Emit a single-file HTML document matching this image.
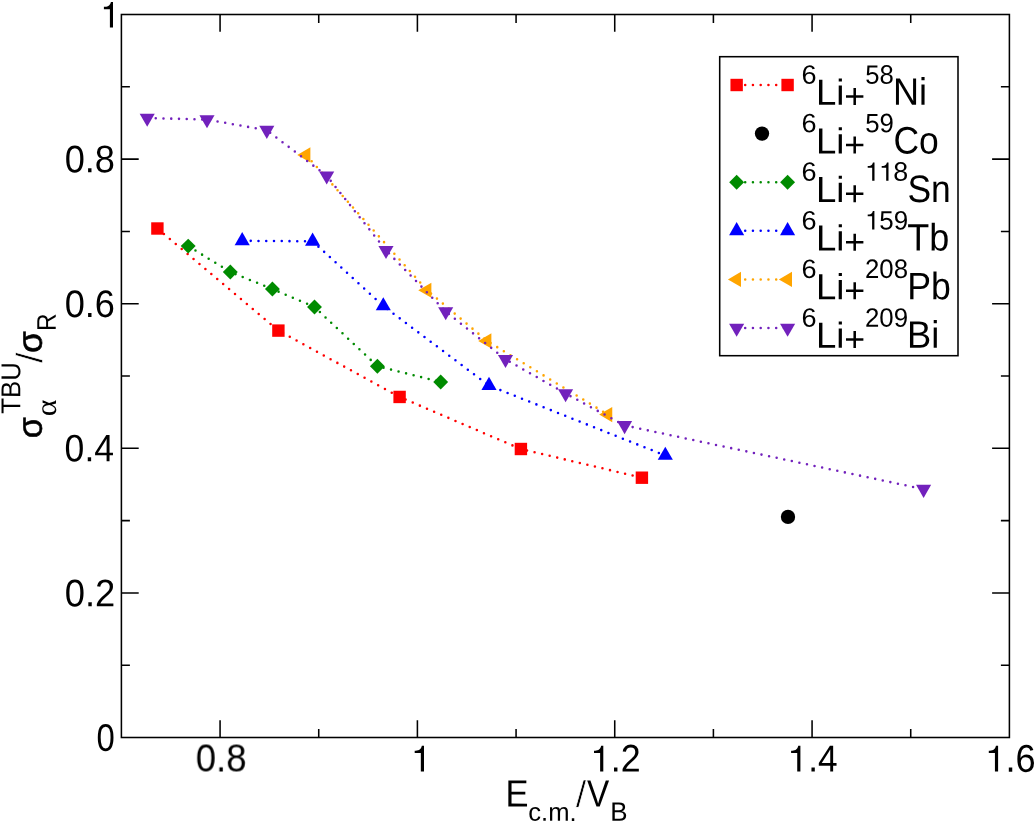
<!DOCTYPE html>
<html><head><meta charset="utf-8"><title>chart</title>
<style>
html,body{margin:0;padding:0;background:#fff;}
body{width:1035px;height:824px;overflow:hidden;}
svg{display:block;}
text{font-family:"Liberation Sans",sans-serif;font-size:100px;font-kerning:none;fill:#000;}
text.sf{font-family:"Liberation Serif",serif;}
</style></head><body>
<svg width="1035" height="824" viewBox="0 0 1035 824">
<rect x="0" y="0" width="1035" height="824" fill="#ffffff"/>
<polyline points="157.40,228.50 278.40,330.60 399.60,396.95 520.90,449.00 641.90,477.70" fill="none" stroke="#ff0000" stroke-width="2.55" stroke-linecap="round" stroke-dashoffset="-0.8" stroke-dasharray="0 7.75"/>
<rect x="151.20" y="222.30" width="12.40" height="12.40" fill="#ff0000"/>
<rect x="272.20" y="324.40" width="12.40" height="12.40" fill="#ff0000"/>
<rect x="393.40" y="390.75" width="12.40" height="12.40" fill="#ff0000"/>
<rect x="514.70" y="442.80" width="12.40" height="12.40" fill="#ff0000"/>
<rect x="635.70" y="471.50" width="12.40" height="12.40" fill="#ff0000"/>
<polyline points="188.20,246.10 230.30,272.00 272.40,289.00 314.50,307.00 377.40,366.20 440.70,382.00" fill="none" stroke="#008b00" stroke-width="2.55" stroke-linecap="round" stroke-dashoffset="-0.8" stroke-dasharray="0 7.75"/>
<polygon points="180.75,246.10 188.20,238.65 195.65,246.10 188.20,253.55" fill="#008b00"/>
<polygon points="222.85,272.00 230.30,264.55 237.75,272.00 230.30,279.45" fill="#008b00"/>
<polygon points="264.95,289.00 272.40,281.55 279.85,289.00 272.40,296.45" fill="#008b00"/>
<polygon points="307.05,307.00 314.50,299.55 321.95,307.00 314.50,314.45" fill="#008b00"/>
<polygon points="369.95,366.20 377.40,358.75 384.85,366.20 377.40,373.65" fill="#008b00"/>
<polygon points="433.25,382.00 440.70,374.55 448.15,382.00 440.70,389.45" fill="#008b00"/>
<polyline points="242.20,240.80 312.60,241.30 383.30,306.00 489.00,385.60 665.30,455.50" fill="none" stroke="#0000ff" stroke-width="2.55" stroke-linecap="round" stroke-dashoffset="-0.8" stroke-dasharray="0 7.75"/>
<polygon points="234.65,245.17 249.75,245.17 242.20,232.07" fill="#0000ff"/>
<polygon points="305.05,245.67 320.15,245.67 312.60,232.57" fill="#0000ff"/>
<polygon points="375.75,310.37 390.85,310.37 383.30,297.27" fill="#0000ff"/>
<polygon points="481.45,389.97 496.55,389.97 489.00,376.87" fill="#0000ff"/>
<polygon points="657.75,459.87 672.85,459.87 665.30,446.77" fill="#0000ff"/>
<polyline points="306.00,154.90 427.00,290.20 487.00,340.90 607.90,414.60" fill="none" stroke="#ffa500" stroke-width="2.55" stroke-linecap="round" stroke-dashoffset="-0.8" stroke-dasharray="0 7.75"/>
<polygon points="310.37,147.35 310.37,162.45 297.27,154.90" fill="#ffa500"/>
<polygon points="431.37,282.65 431.37,297.75 418.27,290.20" fill="#ffa500"/>
<polygon points="491.37,333.35 491.37,348.45 478.27,340.90" fill="#ffa500"/>
<polygon points="612.27,407.05 612.27,422.15 599.17,414.60" fill="#ffa500"/>
<polyline points="147.20,118.00 207.00,119.60 266.80,130.20 326.70,175.80 386.00,250.30 445.70,311.50 505.50,359.30 565.60,393.50 624.60,425.40 923.60,489.20" fill="none" stroke="#7221bc" stroke-width="2.55" stroke-linecap="round" stroke-dashoffset="-0.8" stroke-dasharray="0 7.75"/>
<polygon points="139.65,113.63 154.75,113.63 147.20,126.73" fill="#7221bc"/>
<polygon points="199.45,115.23 214.55,115.23 207.00,128.33" fill="#7221bc"/>
<polygon points="259.25,125.83 274.35,125.83 266.80,138.93" fill="#7221bc"/>
<polygon points="319.15,171.43 334.25,171.43 326.70,184.53" fill="#7221bc"/>
<polygon points="378.45,245.93 393.55,245.93 386.00,259.03" fill="#7221bc"/>
<polygon points="438.15,307.13 453.25,307.13 445.70,320.23" fill="#7221bc"/>
<polygon points="497.95,354.93 513.05,354.93 505.50,368.03" fill="#7221bc"/>
<polygon points="558.05,389.13 573.15,389.13 565.60,402.23" fill="#7221bc"/>
<polygon points="617.05,421.03 632.15,421.03 624.60,434.13" fill="#7221bc"/>
<polygon points="916.05,484.83 931.15,484.83 923.60,497.93" fill="#7221bc"/>
<circle cx="788.00" cy="516.90" r="7.15" fill="#000"/>
<rect x="121.4" y="14.5" width="888.00" height="723.00" fill="none" stroke="#000" stroke-width="1.55"/>
<path d="M220.07,737.5v-17.3 M220.07,14.5v17.3 M318.73,737.5v-8.5 M318.73,14.5v8.5 M417.40,737.5v-17.3 M417.40,14.5v17.3 M516.07,737.5v-8.5 M516.07,14.5v8.5 M614.73,737.5v-17.3 M614.73,14.5v17.3 M713.40,737.5v-8.5 M713.40,14.5v8.5 M812.07,737.5v-17.3 M812.07,14.5v17.3 M910.73,737.5v-8.5 M910.73,14.5v8.5 M121.4,665.20h8.5 M1009.4,665.20h-8.5 M121.4,592.90h17.3 M1009.4,592.90h-17.3 M121.4,520.60h8.5 M1009.4,520.60h-8.5 M121.4,448.30h17.3 M1009.4,448.30h-17.3 M121.4,376.00h8.5 M1009.4,376.00h-8.5 M121.4,303.70h17.3 M1009.4,303.70h-17.3 M121.4,231.40h8.5 M1009.4,231.40h-8.5 M121.4,159.10h17.3 M1009.4,159.10h-17.3 M121.4,86.80h8.5 M1009.4,86.80h-8.5" stroke="#000" stroke-width="1.55" fill="none"/>
<rect x="719.7" y="56.7" width="238.30" height="299.00" fill="#fff" stroke="#000" stroke-width="1.55"/>
<path d="M736.65,85.00H787.6" stroke="#ff0000" stroke-width="2.55" stroke-linecap="round" stroke-dashoffset="-0.8" stroke-dasharray="0 7.75" fill="none"/>
<rect x="730.45" y="78.80" width="12.40" height="12.40" fill="#ff0000"/>
<rect x="781.40" y="78.80" width="12.40" height="12.40" fill="#ff0000"/>
<circle cx="762.00" cy="133.60" r="7.15" fill="#000"/>
<path d="M736.65,182.20H787.6" stroke="#008b00" stroke-width="2.55" stroke-linecap="round" stroke-dashoffset="-0.8" stroke-dasharray="0 7.75" fill="none"/>
<polygon points="729.20,182.20 736.65,174.75 744.10,182.20 736.65,189.65" fill="#008b00"/>
<polygon points="780.15,182.20 787.60,174.75 795.05,182.20 787.60,189.65" fill="#008b00"/>
<path d="M736.65,230.80H787.6" stroke="#0000ff" stroke-width="2.55" stroke-linecap="round" stroke-dashoffset="-0.8" stroke-dasharray="0 7.75" fill="none"/>
<polygon points="729.10,235.17 744.20,235.17 736.65,222.07" fill="#0000ff"/>
<polygon points="780.05,235.17 795.15,235.17 787.60,222.07" fill="#0000ff"/>
<path d="M736.65,279.40H787.6" stroke="#ffa500" stroke-width="2.55" stroke-linecap="round" stroke-dashoffset="-0.8" stroke-dasharray="0 7.75" fill="none"/>
<polygon points="741.02,271.85 741.02,286.95 727.92,279.40" fill="#ffa500"/>
<polygon points="791.97,271.85 791.97,286.95 778.87,279.40" fill="#ffa500"/>
<path d="M736.65,328.00H787.6" stroke="#7221bc" stroke-width="2.55" stroke-linecap="round" stroke-dashoffset="-0.8" stroke-dasharray="0 7.75" fill="none"/>
<polygon points="729.10,323.63 744.20,323.63 736.65,336.73" fill="#7221bc"/>
<polygon points="780.05,323.63 795.15,323.63 787.60,336.73" fill="#7221bc"/>
<g style="filter:grayscale(1)">
<text transform="matrix(0.36479 0.0003 -0.0003 0.38841 195.775 771.821)" fill="#000">0.8</text>
<path d="M424.00,771.60L420.83,771.60L420.83,753.01L414.70,753.01L414.70,750.69C417.91,750.69 420.83,750.20 421.87,745.75L424.00,745.75Z" fill="#000"/>
<path d="M603.30,771.60L600.13,771.60L600.13,753.01L594.00,753.01L594.00,750.69C597.21,750.69 600.13,750.20 601.17,745.75L603.30,745.75Z" fill="#000"/>
<text transform="matrix(0.35818 0.0003 -0.0003 0.38525 610.729 771.600)" fill="#000">.2</text>
<path d="M800.40,771.60L797.23,771.60L797.23,753.01L791.10,753.01L791.10,750.69C794.31,750.69 797.23,750.20 798.27,745.75L800.40,745.75Z" fill="#000"/>
<text transform="matrix(0.35185 0.0003 -0.0003 0.37573 808.187 771.600)" fill="#000">.4</text>
<path d="M998.10,771.60L994.93,771.60L994.93,753.01L988.80,753.01L988.80,750.69C992.01,750.69 994.93,750.20 995.97,745.75L998.10,745.75Z" fill="#000"/>
<text transform="matrix(0.36209 0.0003 -0.0003 0.38841 1005.394 771.821)" fill="#000">.6</text>
<text transform="matrix(0.36363 0.0003 -0.0003 0.38418 64.680 606.125)" fill="#000">0.2</text>
<text transform="matrix(0.35558 0.0003 -0.0003 0.38135 64.611 461.328)" fill="#000">0.4</text>
<text transform="matrix(0.36186 0.0003 -0.0003 0.38418 64.686 316.925)" fill="#000">0.6</text>
<text transform="matrix(0.36173 0.0003 -0.0003 0.38418 64.687 172.325)" fill="#000">0.8</text>
<text transform="matrix(0.32843 0.0003 -0.0003 0.38418 96.417 750.725)" fill="#000">0</text>
<path d="M113.00,27.40L109.90,27.40L109.90,9.14L103.90,9.14L103.90,6.85C107.04,6.85 109.90,6.37 110.92,2.00L113.00,2.00Z" fill="#000"/>
<text transform="matrix(0.27090 0.0003 -0.0003 0.26695 801.624 83.639)" fill="#000">6</text>
<text transform="matrix(0.36571 0.0003 -0.0003 0.36295 816.000 104.800)" fill="#000">Li</text>
<text transform="matrix(0.35814 0.0003 -0.0003 0.34747 844.251 107.954)" fill="#000">+</text>
<text transform="matrix(0.25661 0.0003 -0.0003 0.26695 865.273 83.639)" fill="#000">58</text>
<text transform="matrix(0.36041 0.0003 -0.0003 0.38227 893.043 104.800)" fill="#000">Ni</text>
<text transform="matrix(0.27090 0.0003 -0.0003 0.26695 801.624 132.239)" fill="#000">6</text>
<text transform="matrix(0.36571 0.0003 -0.0003 0.36295 816.000 153.400)" fill="#000">Li</text>
<text transform="matrix(0.35814 0.0003 -0.0003 0.34747 844.251 156.554)" fill="#000">+</text>
<text transform="matrix(0.25759 0.0003 -0.0003 0.26695 865.269 132.239)" fill="#000">59</text>
<text transform="matrix(0.35427 0.0003 -0.0003 0.38227 893.501 153.400)" fill="#000">Co</text>
<text transform="matrix(0.27090 0.0003 -0.0003 0.26695 801.624 180.839)" fill="#000">6</text>
<text transform="matrix(0.36571 0.0003 -0.0003 0.36295 816.000 202.000)" fill="#000">Li</text>
<text transform="matrix(0.35814 0.0003 -0.0003 0.34747 844.251 205.154)" fill="#000">+</text>
<path d="M874.50,180.80L872.18,180.80L872.18,167.64L867.70,167.64L867.70,166.00C870.05,166.00 872.18,165.65 872.94,162.50L874.50,162.50Z" fill="#000"/>
<path d="M888.50,180.80L886.18,180.80L886.18,167.64L881.70,167.64L881.70,166.00C884.05,166.00 886.18,165.65 886.94,162.50L888.50,162.50Z" fill="#000"/>
<text transform="matrix(0.26852 0.0003 -0.0003 0.26695 893.133 180.839)" fill="#000">8</text>
<text transform="matrix(0.35406 0.0003 -0.0003 0.38227 907.392 202.000)" fill="#000">Sn</text>
<text transform="matrix(0.27090 0.0003 -0.0003 0.26695 801.624 229.439)" fill="#000">6</text>
<text transform="matrix(0.36571 0.0003 -0.0003 0.36295 816.000 250.600)" fill="#000">Li</text>
<text transform="matrix(0.35814 0.0003 -0.0003 0.34747 844.251 253.754)" fill="#000">+</text>
<path d="M874.40,229.40L872.12,229.40L872.12,216.24L867.70,216.24L867.70,214.60C870.01,214.60 872.12,214.25 872.87,211.10L874.40,211.10Z" fill="#000"/>
<text transform="matrix(0.25954 0.0003 -0.0003 0.26695 879.261 229.439)" fill="#000">59</text>
<text transform="matrix(0.36008 0.0003 -0.0003 0.38227 907.191 250.600)" fill="#000">Tb</text>
<text transform="matrix(0.27090 0.0003 -0.0003 0.26695 801.624 278.039)" fill="#000">6</text>
<text transform="matrix(0.36571 0.0003 -0.0003 0.36295 816.000 299.200)" fill="#000">Li</text>
<text transform="matrix(0.35814 0.0003 -0.0003 0.34747 844.251 302.354)" fill="#000">+</text>
<text transform="matrix(0.25783 0.0003 -0.0003 0.26695 865.003 278.039)" fill="#000">208</text>
<text transform="matrix(0.35619 0.0003 -0.0003 0.38227 907.328 299.200)" fill="#000">Pb</text>
<text transform="matrix(0.27090 0.0003 -0.0003 0.26695 801.624 326.639)" fill="#000">6</text>
<text transform="matrix(0.36571 0.0003 -0.0003 0.36295 816.000 347.800)" fill="#000">Li</text>
<text transform="matrix(0.35814 0.0003 -0.0003 0.34747 844.251 350.954)" fill="#000">+</text>
<text transform="matrix(0.25847 0.0003 -0.0003 0.26695 865.000 326.639)" fill="#000">209</text>
<text transform="matrix(0.36296 0.0003 -0.0003 0.38227 906.973 347.800)" fill="#000">Bi</text>
<text transform="matrix(0.34502 0.0003 -0.0003 0.37937 505.520 806.450)" fill="#000">E</text>
<text transform="matrix(0.25614 0.0003 -0.0003 0.25554 528.312 820.850)" fill="#000">c.m.</text>
<text transform="matrix(0.37793 0.0003 -0.0003 0.37447 575.700 807.034)" fill="#000" stroke="#fff" stroke-width="1.8">/</text>
<text transform="matrix(0.33272 0.0003 -0.0003 0.37937 587.054 806.450)" fill="#000">V</text>
<text transform="matrix(0.25929 0.0003 -0.0003 0.26381 610.173 820.750)" fill="#000">B</text>
<text transform="matrix(0.0003 -0.34104 0.34753 0.0003 41.661 438.132)" stroke="#000" stroke-width="1.7">&#963;</text>
<text transform="matrix(0.0003 -0.31939 0.29287 0.0003 55.914 416.316)" class="sf">&#945;</text>
<text transform="matrix(0.0003 -0.25732 0.27230 0.0003 20.234 413.678)">TBU</text>
<text transform="matrix(0.0003 -0.38153 0.37038 0.0003 42.138 362.900)" stroke="#fff" stroke-width="1.8">/</text>
<text transform="matrix(0.0003 -0.35175 0.34753 0.0003 41.661 353.077)" stroke="#000" stroke-width="1.7">&#963;</text>
<text transform="matrix(0.0003 -0.24421 0.26890 0.0003 55.800 330.903)">R</text>
</g>
</svg></body></html>
